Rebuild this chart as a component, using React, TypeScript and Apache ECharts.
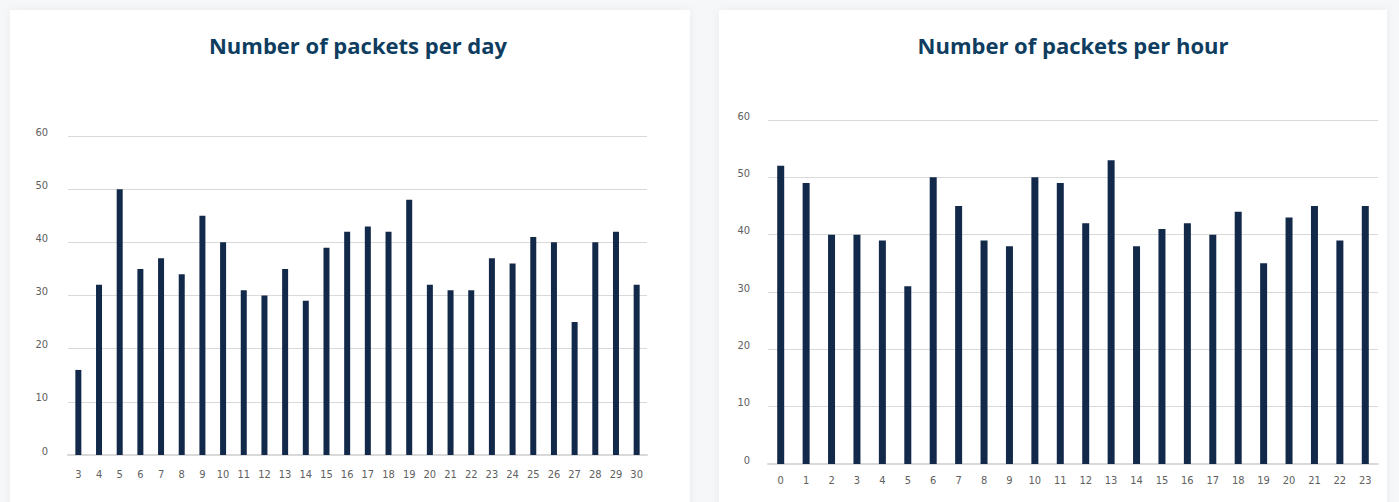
import React, { useEffect, useRef } from "react";
import * as echarts from "echarts";

// Packets counted per day of the month
const dayLabels = ["3", "4", "5", "6", "7", "8", "9", "10", "11", "12", "13", "14", "15", "16", "17", "18", "19", "20", "21", "22", "23", "24", "25", "26", "27", "28", "29", "30"];
const packetsPerDay = [16, 32, 50, 35, 37, 34, 45, 40, 31, 30, 35, 29, 39, 42, 43, 42, 48, 32, 31, 31, 37, 36, 41, 40, 25, 40, 42, 32];

// Packets counted per hour of the day
const hourLabels = ["0", "1", "2", "3", "4", "5", "6", "7", "8", "9", "10", "11", "12", "13", "14", "15", "16", "17", "18", "19", "20", "21", "22", "23"];
const packetsPerHour = [52, 49, 40, 40, 39, 31, 50, 45, 39, 38, 50, 49, 42, 53, 38, 41, 42, 40, 44, 35, 43, 45, 39, 45];

const W = 1399;
const H = 502;
const BAR = "#13294a";
const TITLE = "#0e3d5f";
const GRID_LINE = "#d9d9d9";
const LABEL = "#606060";
const LABEL_FONT = "'Liberation Sans Narrow', 'DejaVu Sans Condensed', sans-serif";
const TITLE_FONT = "'Open Sans', Lato, sans-serif";

const valueAxis = (gridIndex: number, margin: number) => ({
  type: "value" as const,
  gridIndex,
  min: 0,
  max: 60,
  interval: 10,
  axisLine: { show: false },
  axisTick: { show: false },
  axisLabel: {
    color: LABEL,
    fontSize: 11,
    fontFamily: LABEL_FONT,
    margin,
    verticalAlign: "bottom" as const,
    lineHeight: 8,
  },
  splitLine: { lineStyle: { color: GRID_LINE, width: 1 } },
});

const categoryAxis = (gridIndex: number, data: string[], margin: number) => ({
  type: "category" as const,
  gridIndex,
  data,
  axisLine: { show: true, lineStyle: { color: GRID_LINE, width: 2 } },
  axisTick: { show: false },
  axisLabel: { color: LABEL, fontSize: 11, fontFamily: LABEL_FONT, margin, interval: 0 },
});

const titleStyle = { color: TITLE, fontSize: 22, fontWeight: "bold" as const, fontFamily: TITLE_FONT };

export default function App() {
  const ref = useRef<HTMLDivElement>(null);

  useEffect(() => {
    if (!ref.current) return;
    const chart = echarts.init(ref.current, null, { renderer: "svg" });
    chart.setOption({
      animation: false,
      backgroundColor: "#f6f7f9",
      graphic: [
        {
          type: "rect",
          shape: { x: 10, y: 10, width: 680, height: 500 },
          style: { fill: "#ffffff", shadowBlur: 8, shadowColor: "rgba(0,0,0,0.05)" },
          z: -10,
        },
        {
          type: "rect",
          shape: { x: 719, y: 10, width: 668, height: 500 },
          style: { fill: "#ffffff", shadowBlur: 8, shadowColor: "rgba(0,0,0,0.05)" },
          z: -10,
        },
      ],
      title: [
        { text: "Number of packets per day", left: 353, top: 29, textAlign: "center", textStyle: titleStyle },
        { text: "Number of packets per hour", left: 1068, top: 29, textAlign: "center", textStyle: titleStyle },
      ],
      grid: [
        { left: 68, right: W - 647, top: 136, bottom: H - 455 },
        { left: 768, right: W - 1378, top: 120, bottom: H - 464 },
      ],
      xAxis: [categoryAxis(0, dayLabels, 14), categoryAxis(1, hourLabels, 11)],
      yAxis: [valueAxis(0, 20), valueAxis(1, 18)],
      series: [
        {
          type: "bar",
          xAxisIndex: 0,
          yAxisIndex: 0,
          data: packetsPerDay,
          barWidth: 6,
          itemStyle: { color: BAR },
        },
        {
          type: "bar",
          xAxisIndex: 1,
          yAxisIndex: 1,
          data: packetsPerHour,
          barWidth: 7,
          itemStyle: { color: BAR },
        },
      ],
    });
    return () => chart.dispose();
  }, []);

  return (
    <div
      ref={ref}
      style={{ position: "absolute", left: 0, top: 0, width: W, height: H }}
    />
  );
}
